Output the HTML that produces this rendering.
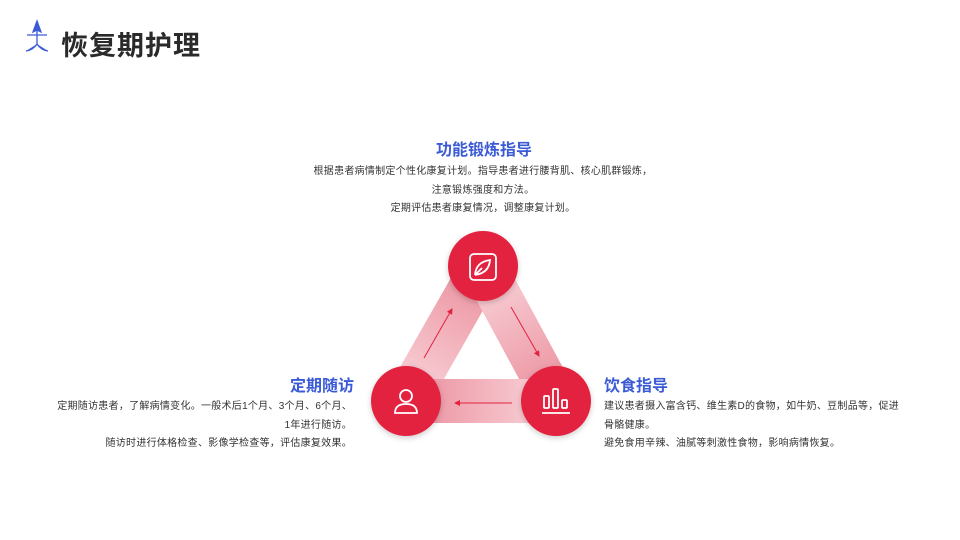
<!DOCTYPE html>
<html><head><meta charset="utf-8"><style>
body{margin:0;width:960px;height:540px;background:#fff;position:relative;overflow:hidden;font-family:"Liberation Sans","Noto Sans CJK SC",sans-serif;}
.t{position:absolute;font-size:10px;letter-spacing:0.27px;color:#333;line-height:18.5px;}
h1{position:absolute;left:61px;top:24px;margin:0;font-size:27px;font-weight:bold;color:#2a2a2a;letter-spacing:1px}
.h{position:absolute;font-size:16px;font-weight:bold;color:#3b5bd6;}
</style></head><body>
<svg style="position:absolute;left:0;top:0" width="960" height="540">
<defs>
<linearGradient id="gl" x1="406" y1="401" x2="483" y2="266" gradientUnits="userSpaceOnUse"><stop offset="0" stop-color="#fad6dc"/><stop offset="1" stop-color="#ea8e9c"/></linearGradient>
<linearGradient id="gr" x1="483" y1="266" x2="556" y2="401" gradientUnits="userSpaceOnUse"><stop offset="0" stop-color="#fad6dc"/><stop offset="1" stop-color="#ea8e9c"/></linearGradient>
<linearGradient id="gb" x1="556" y1="401" x2="406" y2="401" gradientUnits="userSpaceOnUse"><stop offset="0" stop-color="#fad6dc"/><stop offset="1" stop-color="#ea8e9c"/></linearGradient>
<filter id="sh" x="-30%" y="-30%" width="160%" height="160%"><feDropShadow dx="0" dy="2" stdDeviation="3" flood-color="#000" flood-opacity="0.2"/></filter>
<marker id="ar" markerWidth="6" markerHeight="6" refX="5" refY="3" orient="auto"><path d="M0,0L6,3L0,6z" fill="#e3223f"/></marker>
</defs>
<path d="M37,21 L33,32 L37,30 L41,32 Z M27,35 L47,35 M37,30 L37,44 M37,44 Q33,50 26,51 M37,44 Q41,50 48,51" fill="#3b5bd6" stroke="#3b5bd6" stroke-width="1.3"/>
<line x1="406" y1="401" x2="483" y2="266" stroke="url(#gl)" stroke-width="44"/>
<line x1="483" y1="266" x2="556" y2="401" stroke="url(#gr)" stroke-width="44"/>
<line x1="556" y1="401" x2="406" y2="401" stroke="url(#gb)" stroke-width="44"/>
<line x1="424" y1="358" x2="452" y2="309" stroke="#e3223f" stroke-width="1" marker-end="url(#ar)"/>
<line x1="511" y1="307" x2="539" y2="356" stroke="#e3223f" stroke-width="1" marker-end="url(#ar)"/>
<line x1="512" y1="403" x2="455" y2="403" stroke="#e3223f" stroke-width="1" marker-end="url(#ar)"/>
<circle cx="483" cy="266" r="35" fill="#e3223f" filter="url(#sh)"/>
<circle cx="406" cy="401" r="35" fill="#e3223f" filter="url(#sh)"/>
<circle cx="556" cy="401" r="35" fill="#e3223f" filter="url(#sh)"/>
<g fill="none" stroke="#fff" stroke-width="1.8">
<rect x="470" y="254" width="26" height="26" rx="4"/>
<path d="M475,275 Q476,262 490,260 Q489,273 475,275 M475,275 L482,268"/>
<circle cx="406" cy="396" r="6"/>
<path d="M395,413 Q395,404 406,404 Q417,404 417,413 Z"/>
<rect x="544" y="396" width="5" height="12" rx="1"/><rect x="553" y="389" width="5" height="19" rx="1"/><rect x="562" y="400" width="5" height="8" rx="1"/>
<line x1="542" y1="413" x2="570" y2="413"/>
</g>
</svg>
<h1>恢复期护理</h1>
<div class="h" style="left:436px;top:136px">功能锻炼指导</div>
<div class="t" style="left:280px;width:406px;top:163px;text-align:center">根据患者病情制定个性化康复计划。指导患者进行腰背肌、核心肌群锻炼，<br>注意锻炼强度和方法。<br>定期评估患者康复情况，调整康复计划。</div>
<div class="h" style="left:290px;top:372px">定期随访</div>
<div class="t" style="left:30px;width:322px;top:398px;text-align:right">定期随访患者，了解病情变化。一般术后1个月、3个月、6个月、<br>1年进行随访。<br>随访时进行体格检查、影像学检查等，评估康复效果。</div>
<div class="h" style="left:604px;top:372px">饮食指导</div>
<div class="t" style="left:604px;width:305px;top:398px">建议患者摄入富含钙、维生素D的食物，如牛奶、豆制品等，促进<br>骨骼健康。<br>避免食用辛辣、油腻等刺激性食物，影响病情恢复。</div>
</body></html>
